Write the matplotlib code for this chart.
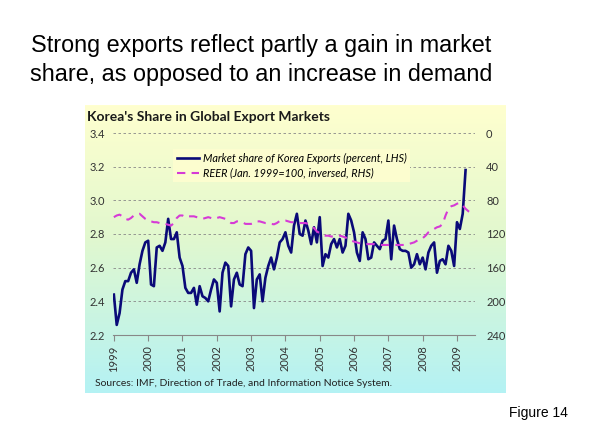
import numpy as np
import matplotlib.pyplot as plt
from matplotlib.colors import LinearSegmentedColormap

# monthly data, Jan 1999 onward
share = [2.44, 2.26, 2.33, 2.47, 2.52, 2.52, 2.57, 2.59, 2.51, 2.62, 2.70, 2.75,
         2.76, 2.50, 2.49, 2.72, 2.73, 2.70, 2.75, 2.89, 2.77, 2.77, 2.81, 2.66,
         2.61, 2.48, 2.45, 2.45, 2.48, 2.38, 2.49, 2.43, 2.42, 2.40, 2.47, 2.53,
         2.51, 2.34, 2.57, 2.63, 2.61, 2.37, 2.53, 2.57, 2.50, 2.49, 2.68, 2.72,
         2.70, 2.36, 2.53, 2.56, 2.40, 2.54, 2.61, 2.66, 2.59, 2.66, 2.75, 2.77,
         2.81, 2.73, 2.69, 2.85, 2.92, 2.80, 2.79, 2.88, 2.82, 2.74, 2.84, 2.75,
         2.90, 2.61, 2.68, 2.66, 2.74, 2.77, 2.72, 2.77, 2.69, 2.73, 2.92, 2.88,
         2.81, 2.69, 2.64, 2.81, 2.77, 2.65, 2.66, 2.75, 2.73, 2.71, 2.76, 2.77,
         2.88, 2.65, 2.85, 2.77, 2.71, 2.70, 2.70, 2.69, 2.60, 2.62, 2.68, 2.62,
         2.66, 2.59, 2.69, 2.73, 2.75, 2.57, 2.64, 2.65, 2.62, 2.73, 2.70, 2.61,
         2.87, 2.83, 2.92, 3.18]

reer = [100, 98, 97, 99, 102, 103, 101, 98, 97, 96, 99, 102,
        104, 105, 106, 106, 107, 108, 108, 109, 110, 107, 101, 98,
        98, 100, 99, 99, 99, 100, 101, 102, 101, 100, 101, 102,
        101, 100, 101, 102, 104, 107, 107, 105, 105, 106, 108, 108,
        108, 107, 105, 105, 106, 107, 107, 108, 108.5, 107, 104.5, 104,
        104, 105, 106, 106, 106, 107, 107, 107, 108, 110, 113, 117,
        119, 121, 122, 122, 123, 123, 123, 122, 123, 124, 127, 128,
        129, 130, 131, 131, 132, 132, 132, 132, 133, 133, 133, 133,
        133, 133, 133, 133, 133, 133, 133, 132, 131, 130, 128, 126,
        125, 122, 118, 116, 114, 112, 111, 108, 98, 90, 87, 86,
        84, 83, 86, 90, 93, 95, 95]

years = [str(y) for y in range(1999, 2010)]

fig = plt.figure(figsize=(5.9, 4.43), dpi=100)
W, H = 590, 443

def box(x0, y0, x1, y1):
    return [x0 / W, 1 - y1 / H, (x1 - x0) / W, (y1 - y0) / H]

# gradient panel
bg = fig.add_axes(box(85, 105, 506, 393))
cmap = LinearSegmentedColormap.from_list("g", [(0, "#FFFFCF"), (0.45, "#E2F8CE"), (1, "#B4F2F4")])
bg.imshow(np.linspace(0, 1, 256).reshape(-1, 1), aspect="auto", cmap=cmap, extent=[0, 1, 0, 1])
bg.axis("off")

fig.text(261 / W, 1 - 60 / H, "Strong exports reflect partly a gain in market\nshare, as opposed to an increase in demand",
         ha="center", va="center", fontsize=16.8, family="Liberation Sans", linespacing=1.3)
fig.text(538 / W, 1 - 413 / H, "Figure 14", ha="center", va="center", fontsize=10, family="Liberation Sans")
fig.text(87 / W, 1 - 117 / H, "Korea's Share in Global Export Markets", ha="left", va="center",
         fontsize=10, fontweight="bold", family="Lato", color="#1a1a1a")
fig.text(95 / W, 1 - 384 / H, "Sources: IMF, Direction of Trade, and Information Notice System.",
         ha="left", va="center", fontsize=7.5, family="Lato", color="#222222")

ax = fig.add_axes(box(113, 133, 475, 335))
ax.patch.set_alpha(0)
m = np.arange(len(share))
ax.plot(m, share, color="#0A0A78", lw=1.9, label="Market share of Korea Exports (percent, LHS)", zorder=3)
ax.set_xlim(-0.3, 126.3)
ax.set_ylim(2.2, 3.4)
ax.set_yticks(np.arange(2.2, 3.41, 0.2))
ax.set_yticklabels(["%.1f" % v for v in np.arange(2.2, 3.41, 0.2)])
ax.grid(axis="y", color="#888888", ls=(0, (3, 3)), lw=0.6)
ax.set_xticks(np.arange(0, 121, 12))
ax.set_xticklabels(years, rotation=90)
for s in ["top", "left", "right"]:
    ax.spines[s].set_visible(False)
ax.spines["bottom"].set_color("#888888")
ax.tick_params(axis="y", length=0, labelsize=8, labelcolor="#333333", pad=6)
ax.tick_params(axis="x", length=4, color="#888888", labelsize=8, labelcolor="#333333")
for lab in ax.get_xticklabels() + ax.get_yticklabels():
    lab.set_family("Lato")

ax2 = ax.twinx()
ax2.plot(np.arange(len(reer)), reer, color="#D63AD6", lw=1.5, ls=(0, (4, 3)),
         label="REER (Jan. 1999=100, inversed, RHS)")
ax2.set_ylim(240, 0)
ax2.set_yticks(range(0, 241, 40))
for s in ["top", "left", "right", "bottom"]:
    ax2.spines[s].set_visible(False)
ax2.tick_params(axis="y", length=0, labelsize=8, labelcolor="#333333", pad=8)
for lab in ax2.get_yticklabels():
    lab.set_family("Lato")

h1, l1 = ax.get_legend_handles_labels()
h2, l2 = ax2.get_legend_handles_labels()
leg = ax2.legend(h1 + h2, l1 + l2, loc="upper left", bbox_to_anchor=(168 / W, 1 - 144 / H),
                 bbox_transform=fig.transFigure, frameon=True, facecolor="#FCFDCF", edgecolor="none",
                 framealpha=1, fancybox=False, handlelength=2.1, handletextpad=0.3, labelspacing=0.35,
                 borderpad=0.3, prop={"family": "Lato", "style": "italic", "size": 7.8})

fig.savefig("out.png", dpi=100)
